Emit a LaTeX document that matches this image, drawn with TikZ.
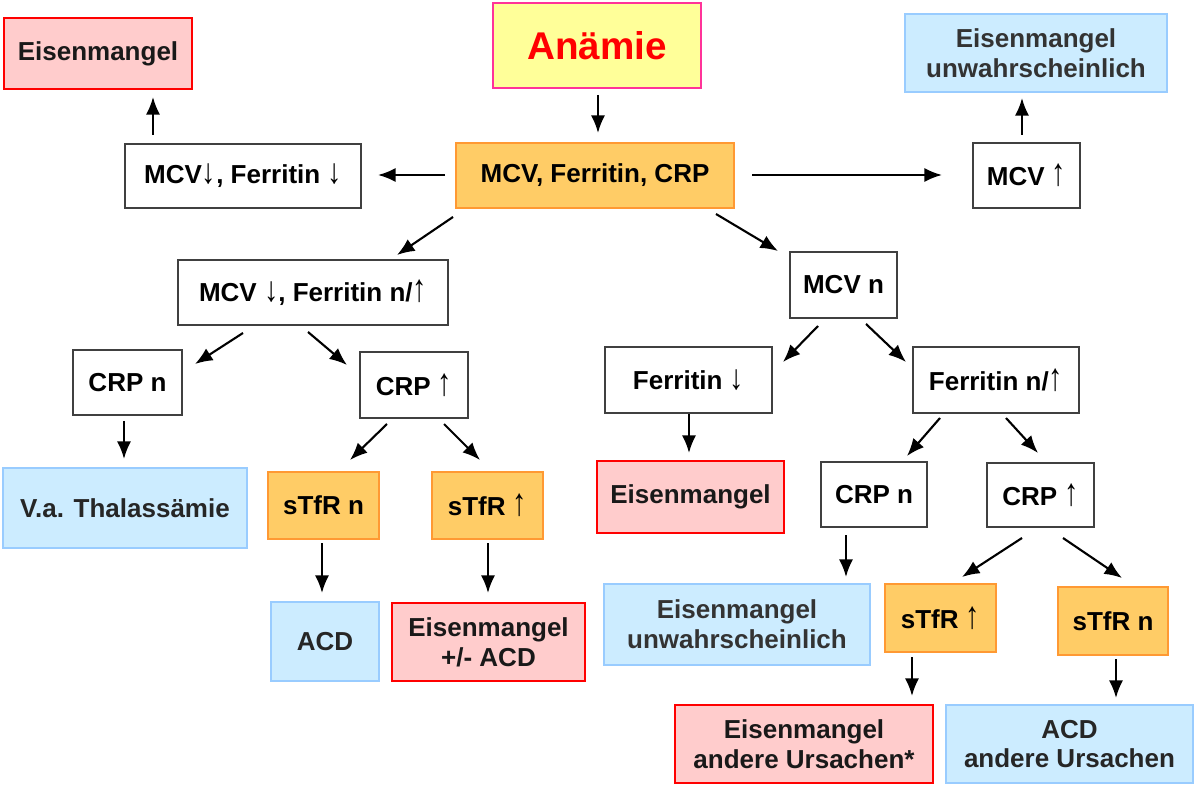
\documentclass[tikz,border=0pt]{standalone}
\usepackage{fontspec}
\usepackage{graphicx}
\setmainfont{Liberation Sans}
\usetikzlibrary{arrows.meta,calc}
\definecolor{redfill}{HTML}{FFCCCC}
\definecolor{redline}{HTML}{FF0000}
\definecolor{redline2}{HTML}{FF3311}
\definecolor{bluefill}{HTML}{CCECFF}
\definecolor{blueline}{HTML}{99CCFF}
\definecolor{orfill}{HTML}{FFCC66}
\definecolor{orline}{HTML}{FF9933}
\definecolor{yelfill}{HTML}{FFFF99}
\definecolor{pinkline}{HTML}{FF3399}
\definecolor{greyline}{HTML}{404040}
\definecolor{greytext}{HTML}{333333}
\newcommand\uarr{{\resizebox*{0.55em}{0.88em}{↑}}}
\newcommand\darr{{\resizebox*{0.55em}{0.8em}{↓}}}
\newcommand\bx[7]{\node[#2, minimum width={(#5-#3)*0.02cm}, minimum height={(#6-#4)*0.02cm}] (#1) at ({(#3+#5)/2},{(#4+#6)/2}) {#7};}
\newcommand\conn[4]{\draw[arr] ($(#1.north west)+(#2)$) -- ($(#3.north west)+(#4)$);}
\tikzset{
  base/.style={rectangle, inner sep=0pt, outer sep=0pt, align=center, line width=1.2pt,
    font=\bfseries\fontsize{14.8}{17}\selectfont},
  wbox/.style={base, draw=greyline, line width=1pt, fill=white, text=black},
  rbox/.style={base, draw=redline, fill=redfill, text=black!90},
  bbox/.style={base, draw=blueline, fill=bluefill, text=greytext},
  obox/.style={base, draw=orline, fill=orfill, text=black},
  ybox/.style={base, draw=pinkline, fill=yelfill, text=red, font=\bfseries\fontsize{22}{26}\selectfont},
  arr/.style={line width=1.2pt, -{Latex[length=10pt,width=8pt]}},
}
\begin{document}
\begin{tikzpicture}[x=0.02cm,y=-0.02cm]
\fill[white] (0,0) rectangle (1203,793);
\useasboundingbox (0,0) rectangle (1203,793);
\bx{eisTL}{rbox}{4}{18}{192}{89}{Eisenmangel}
\bx{anaemie}{ybox}{493}{3}{701}{88}{Anämie}
\bx{eu1}{bbox}{905}{14}{1167}{92}{Eisenmangel\\unwahrscheinlich}
\bx{m1}{wbox}{125}{144}{361}{208}{MCV\darr, Ferritin \darr}
\bx{mfc}{obox}{456}{143}{734}{208}{MCV, Ferritin, CRP}
\bx{mup}{wbox}{973}{143}{1080}{208}{MCV \uarr}
\bx{m2}{wbox}{178}{260}{448}{325}{MCV \darr, Ferritin n/\uarr}
\bx{mcvn}{wbox}{790}{252}{897}{318}{MCV n}
\bx{crpn1}{wbox}{73}{350}{182}{415}{CRP n}
\bx{crpup1}{wbox}{360}{352}{468}{418}{CRP \uarr}
\bx{fdown}{wbox}{605}{347}{772}{413}{Ferritin \darr}
\bx{fnup}{wbox}{913}{347}{1079}{413}{Ferritin n/\uarr}
\bx{va}{bbox}{3}{468}{247}{548}{\color{black!85}V.a. Thalassämie}
\bx{stfrn1}{obox}{268}{472}{379}{539}{sTfR n}
\bx{stfrup1}{obox}{432}{472}{543}{539}{sTfR \uarr}
\bx{eis2}{rbox}{597}{461}{784}{533}{Eisenmangel}
\bx{crpn2}{wbox}{821}{462}{927}{527}{CRP n}
\bx{crpup2}{wbox}{987}{463}{1094}{527}{CRP \uarr}
\bx{acd1}{bbox}{271}{602}{379}{681}{\color{black!85}ACD}
\bx{eisacd}{rbox}{392}{603}{585}{681}{Eisenmangel\\+/- ACD}
\bx{eu2}{bbox}{604}{584}{870}{665}{Eisenmangel\\unwahrscheinlich}
\bx{stfrup2}{obox}{885}{584}{996}{652}{sTfR \uarr}
\bx{stfrn2}{obox}{1058}{587}{1168}{655}{sTfR n}
\bx{eisand}{rbox}{675}{705}{933}{783}{Eisenmangel\\andere Ursachen*}
\bx{acdand}{bbox}{946}{705}{1193}{783}{\color{black!85}ACD\\\color{black!85}andere Ursachen}
\conn{anaemie}{105,92}{mfc}{142,-10}
\conn{mfc}{-11,32}{m1}{253,31}
\conn{mfc}{296,32}{mup}{-31,32}
\conn{m1}{28,-9}{eisTL}{149,79}
\conn{mup}{49,-8}{eu1}{117,84}
\conn{mfc}{-3,74}{m2}{219,-5}
\conn{mfc}{260,71}{mcvn}{-12,-1}
\conn{m2}{65,73}{crpn1}{122,14}
\conn{m2}{130,72}{crpup1}{-13,13}
\conn{crpn1}{51,71}{va}{121,-9}
\conn{crpup1}{27,72}{stfrn1}{82,-12}
\conn{crpup1}{84,72}{stfrup1}{48,-12}
\conn{stfrn1}{54,71}{acd1}{51,-9}
\conn{stfrup1}{56,71}{eisacd}{96,-10}
\conn{mcvn}{28,74}{fdown}{178,15}
\conn{mcvn}{76,72}{fnup}{-7,15}
\conn{fdown}{84,67}{eis2}{92,-8}
\conn{fnup}{27,71}{crpn2}{86,-6}
\conn{fnup}{93,71}{crpup2}{51,-10}
\conn{crpn2}{25,73}{eu2}{242,-7}
\conn{crpup2}{35,75}{stfrup2}{77,-7}
\conn{crpup2}{76,75}{stfrn2}{64,-9}
\conn{stfrup2}{27,73}{eisand}{237,-9}
\conn{stfrn2}{58,72}{acdand}{170,-7}
\end{tikzpicture}
\end{document}
